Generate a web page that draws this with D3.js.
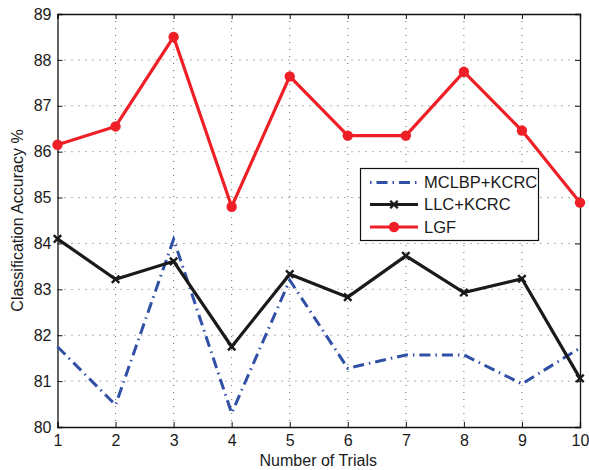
<!DOCTYPE html>
<html>
<head>
<meta charset="utf-8">
<script src="https://cdn.jsdelivr.net/npm/d3@7"></script>
<style>
  body { margin: 0; background: #fff; }
  svg { display: block; font-family: "Liberation Sans", Arial, sans-serif; }
</style>
</head>
<body>
<div id="chart"></div>
<script>
// data
const trials = [1, 2, 3, 4, 5, 6, 7, 8, 9, 10];
const mclbp = [81.75, 80.48, 84.09, 80.3, 83.2, 81.28, 81.57, 81.57, 80.94, 81.72];
const llc = [84.1, 83.22, 83.61, 81.75, 83.33, 82.83, 83.73, 82.93, 83.23, 81.06];
const lgf = [86.15, 86.55, 88.5, 84.8, 87.64, 86.35, 86.35, 87.74, 86.46, 84.89];
const yTicks = [80, 81, 82, 83, 84, 85, 86, 87, 88, 89];
const seriesNames = ["MCLBP+KCRC", "LLC+KCRC", "LGF"];

const W = 589, H = 470;
const pLeft = 57.5, pRight = 580, pTop = 14, pBottom = 427;

const svg = d3.select("#chart").append("svg")
    .attr("width", W)
    .attr("height", H);

const x = d3.scaleLinear([1, 10], [pLeft, pRight]);
const y = d3.scaleLinear([80, 89], [pBottom, pTop]);

// grid
const grid = svg.append("g").attr("stroke", "#444").attr("stroke-width", 0.8)
    .attr("stroke-dasharray", "1,6");
grid.selectAll(".gx").data(trials.slice(1, -1)).enter().append("line")
    .attr("x1", d => x(d)).attr("x2", d => x(d))
    .attr("y1", pTop).attr("y2", pBottom);
grid.selectAll(".gy").data(yTicks.slice(1, -1)).enter().append("line")
    .attr("y1", d => y(d)).attr("y2", d => y(d))
    .attr("x1", pLeft).attr("x2", pRight);

// axes (MATLAB style: ticks inside, box around)
const tk = 5;
svg.append("g").attr("transform", `translate(0,${pBottom})`)
    .call(d3.axisBottom(x).tickValues(trials).tickSize(-tk).tickPadding(8).tickFormat(d3.format("d")));
svg.append("g").attr("transform", `translate(0,${pTop})`)
    .call(d3.axisTop(x).tickValues(trials).tickSize(-tk).tickFormat(""));
svg.append("g").attr("transform", `translate(${pLeft},0)`)
    .call(d3.axisLeft(y).tickValues(yTicks).tickSize(-tk).tickPadding(6).tickFormat(d3.format("d")));
svg.append("g").attr("transform", `translate(${pRight},0)`)
    .call(d3.axisRight(y).tickValues(yTicks).tickSize(-tk).tickFormat(""));

svg.selectAll(".domain").attr("stroke", "#111").attr("stroke-width", 1.3);
svg.selectAll(".tick line").attr("stroke", "#111").attr("stroke-width", 1);
svg.selectAll(".tick text").attr("font-size", 16).attr("fill", "#1a1a1a")
    .attr("font-family", "Liberation Sans, Arial, sans-serif");

// labels
svg.append("text")
    .attr("x", (pLeft + pRight) / 2 - 0.5).attr("y", 466)
    .attr("text-anchor", "middle").attr("font-size", 16).attr("fill", "#1a1a1a")
    .text("Number of Trials");
svg.append("text")
    .attr("transform", `translate(23,${(pTop + pBottom) / 2}) rotate(-90)`)
    .attr("text-anchor", "middle").attr("font-size", 16).attr("fill", "#1a1a1a")
    .text("Classification Accuracy %");

const line = d3.line().x((d, i) => x(trials[i])).y(d => y(d));

const blue = "#3050a6", red = "#ee1f26", black = "#1a1a1a";

// MCLBP+KCRC
svg.append("path").datum(mclbp)
    .attr("d", line).attr("fill", "none")
    .attr("stroke", blue).attr("stroke-width", 3)
    .attr("stroke-dasharray", "11,5,1.5,5");

// LLC+KCRC
svg.append("path").datum(llc)
    .attr("d", line).attr("fill", "none")
    .attr("stroke", black).attr("stroke-width", 3.2)
    .attr("stroke-linejoin", "miter");
const cross = d3.symbol().type(d3.symbolX).size(38);
svg.selectAll(".llc").data(llc).enter().append("path")
    .attr("d", cross)
    .attr("transform", (d, i) => `translate(${x(trials[i])},${y(d)})`)
    .attr("fill", "none").attr("stroke", black).attr("stroke-width", 2.4);

// LGF
svg.append("path").datum(lgf)
    .attr("d", line).attr("fill", "none")
    .attr("stroke", red).attr("stroke-width", 3.2);
svg.selectAll(".lgf").data(lgf).enter().append("circle")
    .attr("cx", (d, i) => x(trials[i])).attr("cy", d => y(d))
    .attr("r", 5.2).attr("fill", red);

// legend
const lg = svg.append("g");
lg.append("rect")
    .attr("x", 360.5).attr("y", 168.5).attr("width", 178).attr("height", 72)
    .attr("fill", "#fff").attr("stroke", "#111").attr("stroke-width", 1.2);
const rows = [182.5, 204.5, 227];
const lx1 = 370, lx2 = 418, lmid = 394;
lg.append("line").attr("x1", lx1).attr("x2", lx2).attr("y1", rows[0]).attr("y2", rows[0])
    .attr("stroke", blue).attr("stroke-width", 3).attr("stroke-dasharray", "1.5,5,11,5");
lg.append("line").attr("x1", lx1).attr("x2", lx2).attr("y1", rows[1]).attr("y2", rows[1])
    .attr("stroke", black).attr("stroke-width", 3.2);
lg.append("path").attr("d", cross).attr("transform", `translate(${lmid},${rows[1]})`)
    .attr("fill", "none").attr("stroke", black).attr("stroke-width", 2.4);
lg.append("line").attr("x1", lx1).attr("x2", lx2).attr("y1", rows[2]).attr("y2", rows[2])
    .attr("stroke", red).attr("stroke-width", 3.2);
lg.append("circle").attr("cx", lmid).attr("cy", rows[2]).attr("r", 5.2).attr("fill", red);
lg.selectAll(".lt").data(seriesNames).enter().append("text")
    .attr("x", 424).attr("y", (d, i) => rows[i]).attr("dy", "0.36em")
    .attr("font-size", 16.5).attr("fill", "#1a1a1a")
    .text(d => d);
</script>
</body>
</html>
